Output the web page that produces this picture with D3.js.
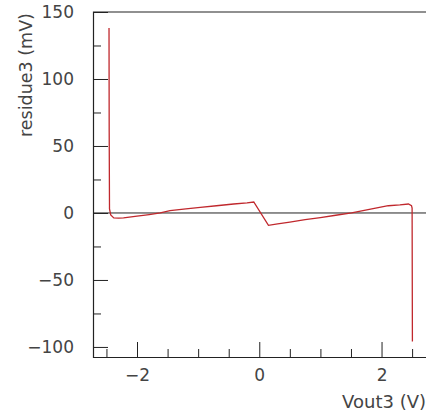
<!DOCTYPE html>
<html>
<head>
<meta charset="utf-8">
<script src="https://cdn.jsdelivr.net/npm/d3@7"></script>
<style>
  html, body { margin: 0; padding: 0; background: #fff; }
  svg { display: block; }
  text { font-family: "DejaVu Sans", sans-serif; fill: #444; }
</style>
</head>
<body>
<svg id="chart" width="426" height="412"></svg>
<script>
// Data
const vout = [-2.458, -2.455, -2.45, -2.43, -2.38, -2.30, -2.22, -2.0, -1.8, -1.62, -1.46, -1.2, -0.965, -0.7, -0.42, -0.2, -0.09, 0.15, 0.3, 0.5, 0.75, 1.0, 1.25, 1.51, 1.8, 2.11, 2.3, 2.44, 2.49, 2.50, 2.505];
const residue = [138, 60, 3, -1.5, -3.7, -3.9, -3.7, -2.4, -1.2, 0, 1.7, 3.0, 4.2, 5.4, 6.7, 7.6, 8.2, -9.2, -8.2, -6.8, -5.0, -3.4, -1.7, 0, 2.6, 5.4, 6.0, 6.7, 5.5, 3.7, -96];
const xMajorTicks = [-2, 0, 2];
const xMinorTicks = [-2.5, -1.5, -1, -0.5, 0.5, 1, 1.5, 2.5];
const yMajorTicks = [-100, -50, 0, 50, 100, 150];
const yMinorTicks = [-75, -25, 25, 75, 125];
const xTitle = "Vout3 (V)";
const yTitle = "residue3 (mV)";

const svg = d3.select("#chart");
const L = 93, R = 428, T = 12, B = 357;

const x = d3.scaleLinear().domain([-2.72, 2.76]).range([L, R]);
const y = d3.scaleLinear().domain([-107.5, 150]).range([B, T]);

const fontSize = 17;
const fmt = d3.format("d");

// Y axis major
const gy = svg.append("g").attr("transform", `translate(${L},0)`)
  .call(d3.axisLeft(y).tickValues(yMajorTicks).tickFormat(fmt).tickSize(-15).tickPadding(19));
gy.select(".domain").remove();
gy.selectAll("line").attr("stroke", "#222");
gy.selectAll("text").attr("font-size", fontSize).attr("font-family", "DejaVu Sans").attr("fill", "#444");

const gym = svg.append("g").attr("transform", `translate(${L},0)`)
  .call(d3.axisLeft(y).tickValues(yMinorTicks).tickSize(-8).tickFormat(""));
gym.select(".domain").remove();
gym.selectAll("line").attr("stroke", "#222");

// X axis major
const gx = svg.append("g").attr("transform", `translate(0,${B})`)
  .call(d3.axisBottom(x).tickValues(xMajorTicks).tickFormat(fmt).tickSize(-15).tickPadding(12));
gx.select(".domain").remove();
gx.selectAll("line").attr("stroke", "#222");
gx.selectAll("text").attr("font-size", fontSize).attr("font-family", "DejaVu Sans").attr("fill", "#444");

const gxm = svg.append("g").attr("transform", `translate(0,${B})`)
  .call(d3.axisBottom(x).tickValues(xMinorTicks).tickSize(-8).tickFormat(""));
gxm.select(".domain").remove();
gxm.selectAll("line").attr("stroke", "#222");

// Frame
svg.append("path")
  .attr("d", `M${R},${T}H${L + 0.5}V${B + 0.5}H${R}`)
  .attr("fill", "none").attr("stroke", "#222").attr("stroke-width", 1.2);

// Zero line
svg.append("line")
  .attr("x1", L).attr("x2", R)
  .attr("y1", y(0)).attr("y2", y(0))
  .attr("stroke", "#222").attr("stroke-width", 1);

// Curve
const pts = vout.map((v, i) => [v, residue[i]]);
svg.append("path")
  .datum(pts)
  .attr("fill", "none")
  .attr("stroke", "#c0282d")
  .attr("stroke-width", 1.3)
  .attr("d", d3.line().x(d => x(d[0])).y(d => y(d[1])));

// Titles
svg.append("text")
  .attr("transform", `translate(32,75) rotate(-90)`)
  .attr("text-anchor", "middle")
  .attr("font-size", 17.5)
  .text(yTitle);

svg.append("text")
  .attr("x", 426).attr("y", 408)
  .attr("text-anchor", "end")
  .attr("font-size", 18)
  .text(xTitle);
</script>
</body>
</html>
